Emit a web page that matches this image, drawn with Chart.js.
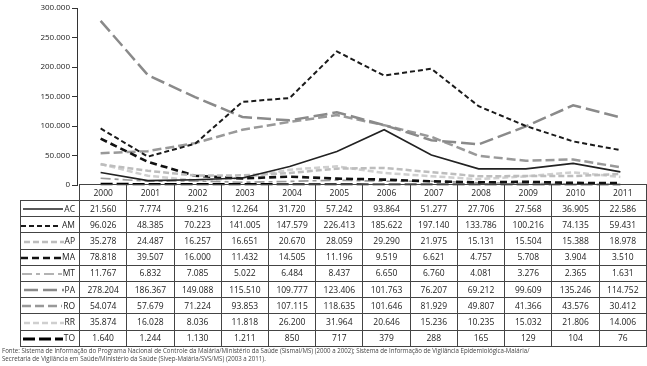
<!DOCTYPE html>
<html><head><meta charset="utf-8">
<script src="https://cdn.jsdelivr.net/npm/chart.js@4"></script>
<style>
html,body{margin:0;padding:0;background:#fff;}
#wrap{position:relative;width:647px;height:366px;overflow:hidden;font-family:"Open Sans","Noto Sans",sans-serif;}
#c{position:absolute;left:0;top:0;}
table{position:absolute;left:20px;top:184px;border-collapse:collapse;table-layout:fixed;font-size:8.5px;color:#222;}
td{border:1px solid #444;text-align:center;padding:0;height:15.2px;line-height:14px;white-space:nowrap;overflow:hidden;}
tr.hd td{height:15px;}
td.lab{text-align:right;padding-right:4px;border-right:1px solid #444;}
td.lab svg{vertical-align:middle;margin-right:1px;}
td.blank{border:none;border-right:1px solid #444;border-bottom:1px solid #444;}
#note{position:absolute;left:2px;top:347px;font-size:6.6px;line-height:8px;color:#444;white-space:nowrap;transform:scaleX(0.93);transform-origin:left top;}
</style></head>
<body><div id="wrap">
<canvas id="c" width="647" height="192"></canvas>
<table id="t"></table>
<div id="note">Fonte: Sistema de Informação do Programa Nacional de Controle da Malária/Ministério da Saúde (Sismal/MS) (2000 a 2002); Sistema de Informação de Vigilância Epidemiológica-Malária/<br>Secretaria de Vigilância em Saúde/Ministério da Saúde (Sivep-Malária/SVS/MS) (2003 a 2011).</div>
</div>
<script>
const years = ['2000','2001','2002','2003','2004','2005','2006','2007','2008','2009','2010','2011'];
const yTicks = [0,50000,100000,150000,200000,250000,300000];
const AC = [21560,7774,9216,12264,31720,57242,93864,51277,27706,27568,36905,22586];
const AM = [96026,48385,70223,141005,147579,226413,185622,197140,133786,100216,74135,59431];
const AP = [35278,24487,16257,16651,20670,28059,29290,21975,15131,15504,15388,18978];
const MA = [78818,39507,16000,11432,14505,11196,9519,6621,4757,5708,3904,3510];
const MT = [11767,6832,7085,5022,6484,8437,6650,6760,4081,3276,2365,1631];
const PA = [278204,186367,149088,115510,109777,123406,101763,76207,69212,99609,135246,114752];
const RO = [54074,57679,71224,93853,107115,118635,101646,81929,49807,41366,43576,30412];
const RR = [35874,16028,8036,11818,26200,31964,20646,15236,10235,15032,21806,14006];
const TO = [1640,1244,1130,1211,850,717,379,288,165,129,104,76];

const series = [
  {label:'AC',data:AC,color:'#222',width:1.6,dash:[]},
  {label:'AM',data:AM,color:'#1a1a1a',width:2,dash:[5,3]},
  {label:'AP',data:AP,color:'#bdbdbd',width:2.5,dash:[6,3]},
  {label:'MA',data:MA,color:'#111',width:2.6,dash:[7,4]},
  {label:'MT',data:MT,color:'#9a9a9a',width:1.6,dash:[10,4,4,4]},
  {label:'PA',data:PA,color:'#8a8a8a',width:2.5,dash:[14,5]},
  {label:'RO',data:RO,color:'#999',width:2.5,dash:[9,4]},
  {label:'RR',data:RR,color:'#cfcfcf',width:2.5,dash:[6,3]},
  {label:'TO',data:TO,color:'#000',width:3,dash:[12,4]}
];

const fmt = v => String(v).replace(/\B(?=(\d{3})+(?!\d))/g,'.');

new Chart(document.getElementById('c'), {
  type:'line',
  data:{labels:years,datasets:series.map(s=>({label:s.label,data:s.data,borderColor:s.color,borderWidth:s.width,borderDash:s.dash,pointRadius:0,fill:false,tension:0}))},
  options:{
    responsive:false,animation:false,
    layout:{padding:{top:8,bottom:2,right:3,left:0}},
    plugins:{legend:{display:false},tooltip:{enabled:false}},
    scales:{
      x:{type:'category',display:false,offset:true},
      y:{min:0,max:300000,
        afterBuildTicks:s=>{s.ticks=yTicks.map(v=>({value:v}));},
        afterFit:s=>{s.width=77;},
        grid:{drawOnChartArea:false,drawTicks:true,tickLength:5,color:'#333'},
        border:{display:true,color:'#333',width:1},
        ticks:{padding:2,color:'#222',font:{family:'"Open Sans","Noto Sans",sans-serif',size:8},callback:v=>fmt(v)}
      }
    }
  }
});

// table
const t=document.getElementById('t');
const cg=document.createElement('colgroup');
let c0=document.createElement('col');c0.style.width='57px';cg.appendChild(c0);
years.forEach(()=>{const c=document.createElement('col');c.style.width='47.25px';cg.appendChild(c);});
t.appendChild(cg);
let hr=document.createElement('tr');hr.className='hd';
let bl=document.createElement('td');bl.className='blank';hr.appendChild(bl);
years.forEach(y=>{const td=document.createElement('td');td.textContent=y;hr.appendChild(td);});
t.appendChild(hr);
series.forEach(s=>{
  const tr=document.createElement('tr');
  const lab=document.createElement('td');lab.className='lab';
  const dash=s.dash.length?` stroke-dasharray="${s.dash.join(',')}"`:'';
  lab.innerHTML=`<svg width="40" height="6"><line x1="0" y1="3" x2="40" y2="3" stroke="${s.color}" stroke-width="${s.width}"${dash}/></svg>${s.label}`;
  tr.appendChild(lab);
  s.data.forEach(v=>{const td=document.createElement('td');td.textContent=fmt(v);tr.appendChild(td);});
  t.appendChild(tr);
});
</script>
</body></html>
